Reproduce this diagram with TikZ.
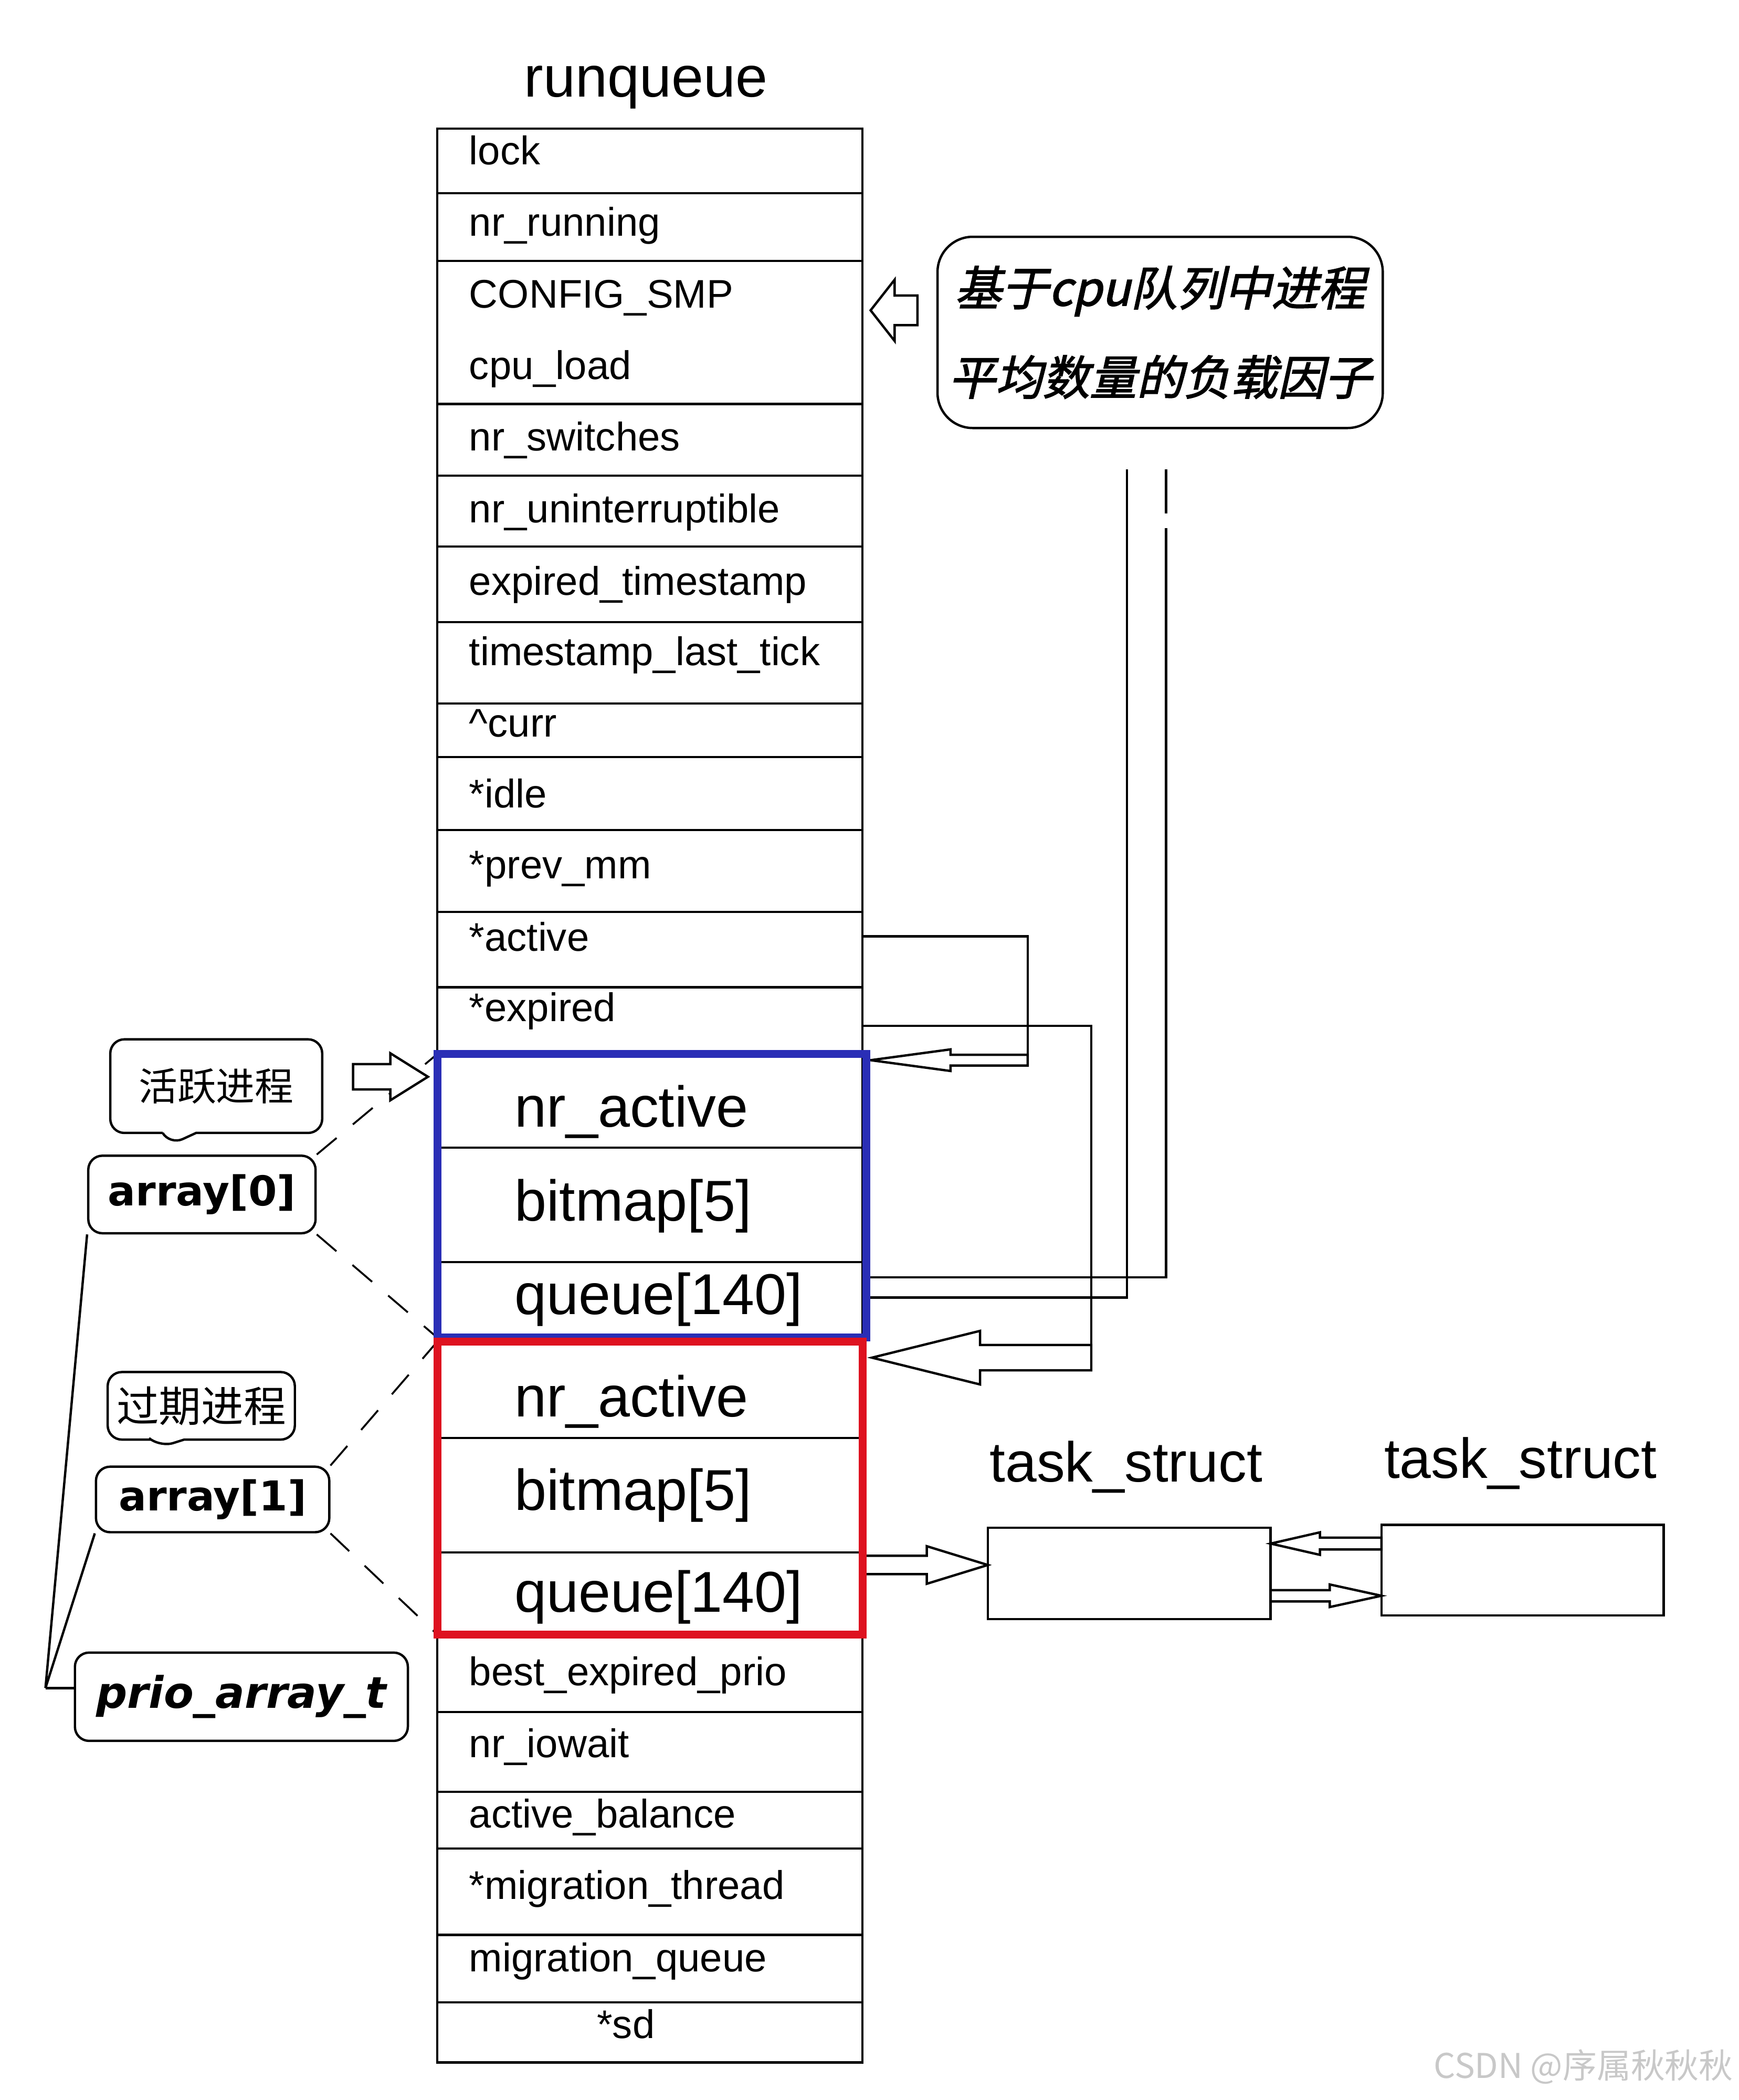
\documentclass[tikz,border=0pt]{standalone}
\usepackage{fontspec}
\setmainfont{Liberation Sans}
\newfontfamily\cjk{Noto Sans CJK SC}
\newfontfamily\cjkslant[FakeSlant=0.22,FakeBold=2]{Noto Sans CJK SC}
\newfontfamily\tagfont{DejaVu Sans}
\usepackage{xcolor}
\usetikzlibrary{calc,shapes.callouts}

\definecolor{actblue}{RGB}{42,46,182}
\definecolor{expred}{RGB}{222,18,32}
\definecolor{wmgray}{RGB}{200,200,200}

% hollow block arrow: tail, tip, shaft half width, head half width, head length
\newcommand\blockarrow[5]{%
  \draw [hollow] let \p1=(#1), \p2=(#2), \n1={ifthenelse(\x1>\x2,1,-1)} in
    (\p2) -- ({\x2+(\n1)*(#5)},{\y2+(#4)}) -- ({\x2+(\n1)*(#5)},{\y2+(#3)})
    -- ({\x1},{\y2+(#3)}) -- ({\x1},{\y2-(#3)}) -- ({\x2+(\n1)*(#5)},{\y2-(#3)})
    -- ({\x2+(\n1)*(#5)},{\y2-(#4)}) -- cycle;}

\tikzset{
  fld/.style={anchor=base west, inner sep=0pt, font=\fontsize{17}{20}\selectfont},
  sub/.style={anchor=base west, inner sep=0pt, font=\fontsize{24.5}{28}\selectfont},
  ttl/.style={anchor=base, inner sep=0pt, font=\fontsize{24.5}{28}\selectfont},
  sbox/.style={draw, inner sep=0pt, outer sep=0pt},
  tag/.style={draw, rounded corners=6pt, inner sep=0pt, font=\tagfont\bfseries\fontsize{17.5}{20}\selectfont},
  bubble/.style={rectangle callout, draw, rounded corners=6pt, inner sep=0pt, callout pointer width=0.5cm},
  hollow/.style={draw, fill=white, line width=1pt},
  guide/.style={line width=0.8pt, dash pattern=on 11pt off 9pt}
}

\begin{document}
\begin{tikzpicture}[x=0.02cm, y=-0.02cm, line width=1pt]
\useasboundingbox (0,0) rectangle (1300,1570);

% runqueue
\node [ttl] (title) at (483,72.6) {runqueue};
\node [sbox, minimum width=6.36cm, minimum height=28.92cm] (rq) at (486,819) {};
\foreach \y in {144.5,195,302,355.6,408.6,465,526,566,620.5,681.8,738,1280,1339.6,1382,1446.6,1497}
  \draw (327,\y) -- (645,\y);
\foreach \y in {858,943.6,1075,1160.6}
  \draw (330,\y) -- (645,\y);

\node [fld] (lock) at (350,123) {lock};
\node [fld] (nrrun) at (350,176.6) {nr\_running};
\node [fld] (smp) at (350,230) {CONFIG\_SMP};
\node [fld] (load) at (350,283.7) {cpu\_load};
\node [fld] (nrsw) at (350,336.8) {nr\_switches};
\node [fld] (nrun) at (350,390.6) {nr\_uninterruptible};
\node [fld] (exts) at (350,445) {expired\_timestamp};
\node [fld] (tslt) at (350,497.6) {timestamp\_last\_tick};
\node [fld] (curr) at (350,550.8) {\textasciicircum curr};
\node [fld] (idle) at (350,604) {*idle};
\node [fld] (prev) at (350,657) {*prev\_mm};
\node [fld] (active) at (350,711) {*active};
\node [fld] (expired) at (350,763.7) {*expired};
\node [sub] (nra) at (384,842.5) {nr\_active};
\node [sub] (bma) at (384,912.6) {bitmap[5]};
\node [sub] (qa) at (384,982.8) {queue[140]};
\node [sub] (nre) at (384,1059) {nr\_active};
\node [sub] (bme) at (384,1129) {bitmap[5]};
\node [sub] (qe) at (384,1205) {queue[140]};
\node [fld] (best) at (350,1260) {best\_expired\_prio};
\node [fld] (iow) at (350,1314) {nr\_iowait};
\node [fld] (bal) at (350,1366.6) {active\_balance};
\node [fld] (mth) at (350,1420) {*migration\_thread};
\node [fld] (mq) at (350,1474) {migration\_queue};
\node [fld, anchor=base] (sd) at (468,1524) {*sd};

% load factor note
\node [draw, rounded corners=15pt, minimum width=6.66cm, minimum height=2.86cm, align=center,
  font=\cjkslant\fontsize{20}{38}\selectfont] (note) at (867.5,248.5) {基于cpu队列中进程\\平均数量的负载因子};
\coordinate (ld1) at (842.6,351);
\coordinate (ld2) at (872,351);

% labels
\node [bubble, minimum width=3.17cm, minimum height=1.4cm, callout absolute pointer={(127,856)},
  font=\cjk\fontsize{16.5}{20}\selectfont] (lact) at (161.7,812) {活跃进程};
\node [tag, minimum width=3.4cm, minimum height=1.16cm] (a0) at (151,893) {array[0]};
\node [bubble, minimum width=2.8cm, minimum height=1.01cm, callout absolute pointer={(119.5,1082)},
  font=\cjk\fontsize{18}{20}\selectfont] (lexp) at (150.5,1051) {过期进程};
\node [tag, minimum width=3.49cm, minimum height=0.98cm] (a1) at (159,1121) {array[1]};
\node [tag, minimum width=4.98cm, minimum height=1.32cm, font=\tagfont\bfseries\itshape\fontsize{18.5}{20}\selectfont] (prio) at (180.5,1268.5) {prio\_array\_t};
\coordinate (jn) at (34,1262);

% task_struct
\node [ttl, font=\fontsize{24}{28}\selectfont] (tl1) at (842,1108) {task\_struct};
\node [ttl, font=\fontsize{24}{28}\selectfont] (tl2) at (1137,1105) {task\_struct};
\node [sbox, minimum width=4.23cm, minimum height=1.37cm] (t1) at (844.4,1176.3) {};
\node [sbox, minimum width=4.22cm, minimum height=1.354cm] (t2) at (1138.5,1173.9) {};

% connectors
\draw (rq.east |- 0,700) -| (768.5,792.6);
\draw (rq.east |- 0,767) -| (816,1015);
\draw (ld1) |- (645,970);
\draw (ld2) -- ++(0,33) ++(0,11) |- (645,955);
\draw (a0.south west) -- (jn);
\draw (a1.south west) -- (jn);
\draw (jn) -- (jn -| prio.west);
\draw [guide] (a0.north east) -- (327,788);
\draw [guide] (a0.south east) -- (327,1000);
\draw [guide] (a1.north east) -- (327,1003);
\draw [guide] (a1.south east) -- (327,1222);

\blockarrow{686,232}{651,232}{6.3pt}{13pt}{10.2pt}
\blockarrow{768.5,792.6}{651,792.6}{2.3pt}{4.6pt}{34pt}
\blockarrow{816,1015}{652,1015}{5.4pt}{11.4pt}{46pt}
\blockarrow{264,805}{320,805}{5.4pt}{10pt}{16pt}
\blockarrow{645,1170}{t1.west |- 0,1170}{3.9pt}{8pt}{26pt}
\blockarrow{t2.west |- 0,1154}{t1.east |- 0,1154}{2.5pt}{4.8pt}{21pt}
\blockarrow{t1.east |- 0,1193}{t2.west |- 0,1193}{2.4pt}{4.8pt}{22pt}

% prio arrays
\node [sbox, draw=actblue, line width=3.4pt, minimum width=6.42cm, minimum height=4.24cm] (actv) at (487.5,894) {};
\node [sbox, draw=expred, line width=3.4pt, minimum width=6.36cm, minimum height=4.38cm] (expd) at (486,1112.5) {};

\node [inner sep=0pt, text=wmgray, font=\cjk\fontsize{14.5}{16}\selectfont] (wm) at (1184,1545) {CSDN @序属秋秋秋};
\end{tikzpicture}
\end{document}
